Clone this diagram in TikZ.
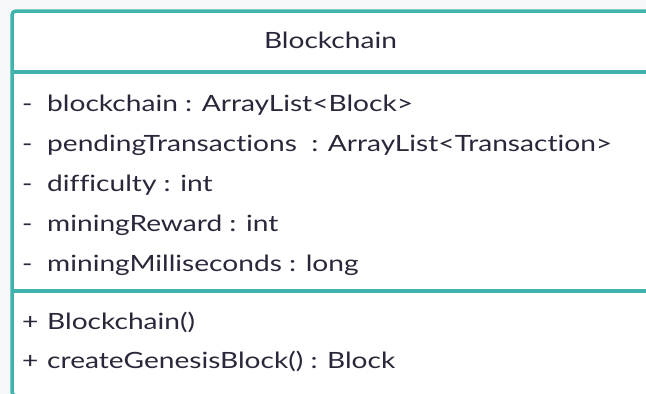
\documentclass[tikz,border=0pt]{standalone}
\usepackage{fontspec}
\setmainfont{Lato}[FakeStretch=1.255,Ligatures=NoCommon]
\usepackage{xcolor}
\usepackage{tikz}
\definecolor{umlteal}{RGB}{64,180,172}
\definecolor{ink}{RGB}{40,40,58}
\definecolor{paper}{RGB}{247,248,250}

\begin{document}
\begin{tikzpicture}[x=1pt,y=1pt,font=\fontsize{22.4}{26}\selectfont,text=ink]
  \clip (0,0) rectangle (646,-394);
  \fill[paper] (0,0) rectangle (646,-394);
  % class box, cut off at the right and bottom
  \draw[line width=3.5pt,umlteal,fill=white,rounded corners=4pt] (12,-11) rectangle (690,-396);
  \draw[line width=3.5pt,umlteal] (12,-72) -- (690,-72);
  \draw[line width=3.5pt,umlteal] (12,-291) -- (690,-291);
  \node[anchor=base,inner sep=0pt] (title) at (330.5,-48) {Blockchain};
  \foreach \k/\l in {1/{blockchain : ArrayList<Block>},2/{pendingTransactions\ \ : ArrayList<Transaction>},3/{difficulty : int},4/{miningReward : int},5/{miningMilliseconds : long}} {\node[anchor=base west,inner sep=0pt] (a\k) at (22,{-71-40*\k}) {\makebox[25pt][l]{-}\l};}
  \foreach \k/\l in {1/{Blockchain()},2/{createGenesisBlock() : Block}} {\node[anchor=base west,inner sep=0pt] (m\k) at (22,{-290-39*\k}) {\makebox[25pt][l]{+}\l};}
\end{tikzpicture}
\end{document}
